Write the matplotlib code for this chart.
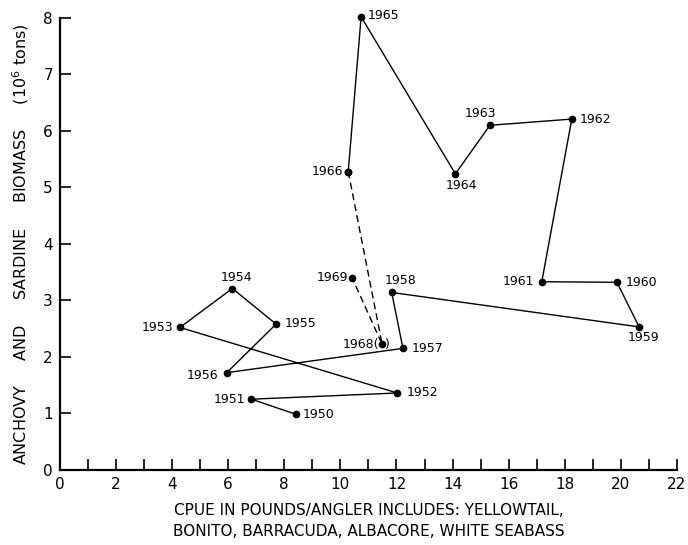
import matplotlib
matplotlib.use("Agg")
import matplotlib.pyplot as plt

years = ["1950", "1951", "1952", "1953", "1954", "1955", "1956", "1957", "1958",
         "1959", "1960", "1961", "1962", "1963", "1964", "1965", "1966"]
cpue = [8.43, 6.83, 12.03, 4.28, 6.15, 7.71, 5.95, 12.23, 11.83,
        20.65, 19.86, 17.18, 18.25, 15.33, 14.10, 10.74, 10.28]
biomass = [0.98, 1.25, 1.36, 2.52, 3.21, 2.58, 1.72, 2.15, 3.14,
           2.53, 3.32, 3.33, 6.21, 6.10, 5.24, 8.02, 5.28]

late_years = ["1966", "1968", "1969"]
late_cpue = [10.28, 11.49, 10.42]
late_biomass = [5.28, 2.22, 3.40]

x_ticks = list(range(0, 23, 2))
y_ticks = list(range(0, 9))

plt.rcParams['font.family'] = ['DejaVu Sans']

fig = plt.figure(figsize=(6.88, 5.45), dpi=100)
ax = fig.add_axes([0.087, 0.138, 0.897, 0.829])

ax.plot(cpue, biomass, color='black', lw=1.0, marker='o', ms=4.5, zorder=3,
        clip_on=False)
ax.plot(late_cpue, late_biomass, color='black', lw=1.0, ls=(0, (5, 3)),
        marker='o', ms=4.5, zorder=3, clip_on=False)

# label offsets in pixels (dx, dy, ha, va)
offs = {
    "1950": (6, 0, 'left', 'center'),
    "1951": (-6, 0, 'right', 'center'),
    "1952": (9, 0, 'left', 'center'),
    "1953": (-7, 0, 'right', 'center'),
    "1954": (4, 11, 'center', 'center'),
    "1955": (9, 1, 'left', 'center'),
    "1956": (-8, -3, 'right', 'center'),
    "1957": (9, 0, 'left', 'center'),
    "1958": (9, 12, 'center', 'center'),
    "1959": (4, -11, 'center', 'center'),
    "1960": (9, 0, 'left', 'center'),
    "1961": (-8, 0, 'right', 'center'),
    "1962": (8, 0, 'left', 'center'),
    "1963": (-9, 12, 'center', 'center'),
    "1964": (6, -12, 'center', 'center'),
    "1965": (7, 1, 'left', 'center'),
    "1966": (-5, 0, 'right', 'center'),
}
fs = 9
for yr, x, y in zip(years, cpue, biomass):
    dx, dy, ha, va = offs[yr]
    ax.annotate(yr, (x, y), xytext=(dx * 0.72, dy * 0.72), textcoords='offset points',
                ha=ha, va=va, fontsize=fs, annotation_clip=False)

ax.annotate("1969", (late_cpue[2], late_biomass[2]), xytext=(-4 * 0.72, 0),
            textcoords='offset points', ha='right', va='center', fontsize=fs)
ax.annotate("1968(", (late_cpue[1], late_biomass[1]), xytext=(-3 * 0.72, 0),
            textcoords='offset points', ha='right', va='center', fontsize=fs)
ax.annotate(")", (late_cpue[1], late_biomass[1]), xytext=(3 * 0.72, 0),
            textcoords='offset points', ha='left', va='center', fontsize=fs)

ax.set_xlim(0, 22)
ax.set_ylim(0, 8)
ax.set_xticks(x_ticks)
ax.set_xticks(range(0, 23), minor=True)
ax.set_yticks(y_ticks)
ax.tick_params(axis='both', which='both', direction='in', width=1.2, labelsize=11)
ax.tick_params(axis='x', which='major', length=8, pad=5)
ax.tick_params(axis='x', which='minor', length=8)
ax.tick_params(axis='y', which='major', length=8, pad=5)

for s in ['top', 'right']:
    ax.spines[s].set_visible(False)
for s in ['left', 'bottom']:
    ax.spines[s].set_linewidth(1.6)

ax.set_xlabel("CPUE IN POUNDS/ANGLER INCLUDES: YELLOWTAIL,\nBONITO, BARRACUDA, ALBACORE, WHITE SEABASS",
              fontsize=11, labelpad=8, linespacing=1.5)
ax.set_ylabel("ANCHOVY     AND     SARDINE     BIOMASS     (10$^6$ tons)",
              fontsize=11.5, labelpad=9)

fig.savefig("out.png", dpi=100)
